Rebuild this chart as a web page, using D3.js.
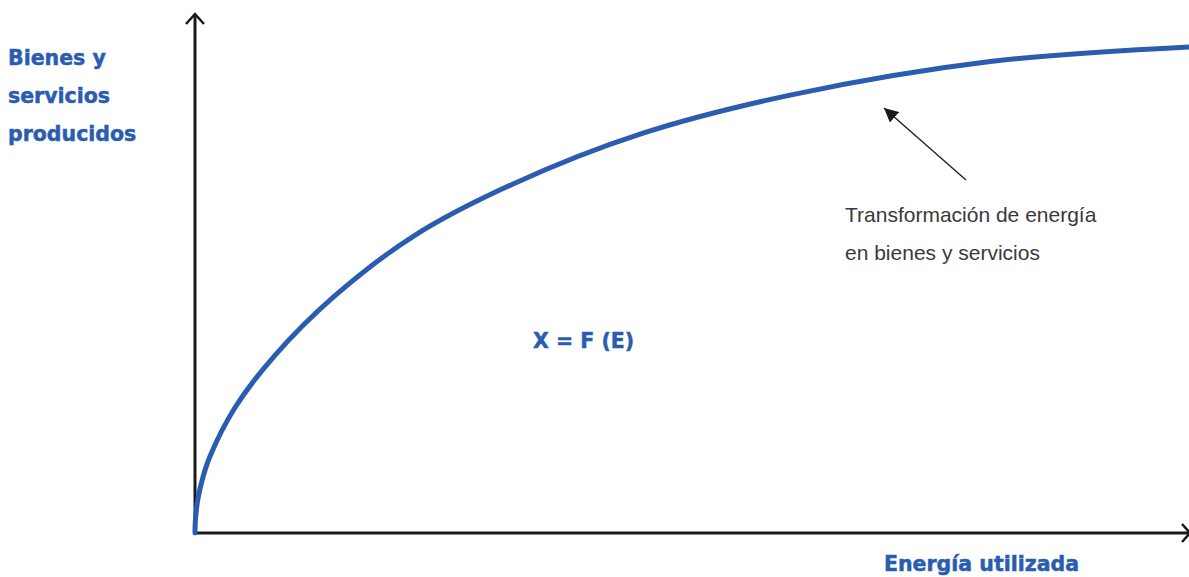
<!DOCTYPE html>
<html><head><meta charset="utf-8">
<script src="https://cdn.jsdelivr.net/npm/d3@7"></script>
<style>body{margin:0;background:#fff}svg{display:block}</style>
</head><body>
<script>
// Energy used (abstract units, 0-100)
const energia = [0, 0.05, 0.3, 0.8, 1.5, 4, 8, 14, 22, 32, 45, 60, 80, 100];
// Goods and services produced (abstract units, 0-100)
const bienes  = [0, 2.7, 6.6, 10.7, 14.7, 24.0, 34.0, 45.4, 57, 67, 76.7, 84.1, 90.5, 93.3];
const yLabelLines = ["Bienes y", "servicios", "producidos"];
const xLabel = "Energía utilizada";
const formula = "X = F (E)";
const noteLines = ["Transformación de energía", "en bienes y servicios"];

const W = 1189, H = 577;
const blue = "#2a5db0", ink = "#1a1a1a";
const svg = d3.select("body").append("svg").attr("width", W).attr("height", H);

const x = d3.scaleLinear().domain([0, 100]).range([195, 1189]);
const y = d3.scaleLinear().domain([0, 100]).range([533, 12]);

const defs = svg.append("defs");
defs.append("marker").attr("id", "tri").attr("viewBox", "0 0 10 10")
  .attr("refX", 10).attr("refY", 5).attr("markerWidth", 14).attr("markerHeight", 14)
  .attr("markerUnits", "userSpaceOnUse").attr("orient", "auto")
  .append("path").attr("d", "M0,0 L10,5 L0,10 Z").attr("fill", ink);

// axes
svg.append("line").attr("x1", x(0)).attr("y1", y(0)).attr("x2", x(0)).attr("y2", 14)
  .attr("stroke", ink).attr("stroke-width", 3);
svg.append("path").attr("d", `M${x(0)-9},${24} L${x(0)},${14} L${x(0)+9},${24}`)
  .attr("fill", "none").attr("stroke", ink).attr("stroke-width", 2.5);
svg.append("line").attr("x1", x(0) - 1.5).attr("y1", y(0)).attr("x2", 1189).attr("y2", y(0))
  .attr("stroke", ink).attr("stroke-width", 3);
svg.append("path").attr("d", `M${1182},${y(0)-9} L${1190},${y(0)} L${1182},${y(0)+9}`)
  .attr("fill", "none").attr("stroke", ink).attr("stroke-width", 2.5);

// curve
const pts = energia.map((e, i) => [e, bienes[i]]);
svg.append("path").datum(pts)
  .attr("d", d3.line().x(d => x(d[0])).y(d => y(d[1])).curve(d3.curveCatmullRom.alpha(0.5)))
  .attr("fill", "none").attr("stroke", blue).attr("stroke-width", 5).attr("stroke-linecap", "round");

// annotation arrow
svg.append("line").attr("x1", 966).attr("y1", 180).attr("x2", 884).attr("y2", 108)
  .attr("stroke", ink).attr("stroke-width", 1.3).attr("marker-end", "url(#tri)");

// texts
const bold = "'DejaVu Sans', sans-serif";
function heavy(sel) {
  return sel.attr("font-family", bold).attr("font-weight", "bold").attr("font-size", 20.5)
    .attr("fill", blue).attr("stroke", blue).attr("stroke-width", 0.5);
}
heavy(svg.append("g").selectAll("text").data(yLabelLines).join("text")
  .attr("x", 8).attr("y", (d, i) => 65 + i * 38)).text(d => d);
heavy(svg.append("text").attr("x", 884).attr("y", 571)).text(xLabel);
heavy(svg.append("text").attr("x", 533).attr("y", 348)).text(formula);
svg.append("g").selectAll("text").data(noteLines).join("text")
  .attr("x", 845).attr("y", (d, i) => 222 + i * 38)
  .attr("font-family", "'Liberation Sans', Arial, sans-serif").attr("font-size", 21)
  .attr("fill", "#3a3a3a").text(d => d);
</script>
</body></html>
